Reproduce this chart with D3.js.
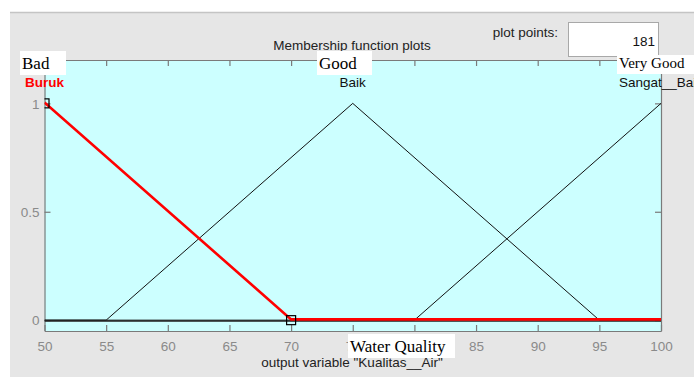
<!DOCTYPE html>
<html><head><meta charset="utf-8">
<script src="https://cdn.jsdelivr.net/npm/d3@7"></script>
<style>body{margin:0;background:#fff;} svg{display:block;}</style>
</head><body>
<svg id="c" width="694" height="377"></svg>
<script>
const xTicks = [50,55,60,65,70,75,80,85,90,95,100];
const yTicks = [0,0.5,1];
const mfNames = ["Buruk","Baik","Sangat__Baik"];
const mfEnglish = ["Bad","Good","Very Good"];
const buruk = [[50,1],[70,0],[100,0]];
const baik = [[50,0],[55,0],[75,1],[95,0],[100,0]];
const sangatBaik = [[50,0],[80,0],[100,1]];
const markers = [[50,1],[70,0]];
const labelAt = [50,75,100];

const svg = d3.select("#c");
const sans = "'Liberation Sans', Arial, sans-serif";
const serif = "'Liberation Serif', 'Times New Roman', serif";
const fs = "13.5px";

svg.append("rect").attr("x",10).attr("y",12).attr("width",684).attr("height",365).attr("fill","#e6e6e6");
svg.append("line").attr("x1",10).attr("x2",694).attr("y1",12.5).attr("y2",12.5).attr("stroke","#c4c4c4").attr("stroke-width",1.5);

const L=44.5, R=661, T=60, B=331;
const x = d3.scaleLinear().domain([50,100]).range([L,R]);
const y = d3.scaleLinear().domain([-0.05,1.2]).range([B,T]);

svg.append("rect").attr("x",L).attr("y",T).attr("width",R-L).attr("height",B-T).attr("fill","#ccffff");

svg.append("defs").append("clipPath").attr("id","clip").append("rect")
  .attr("x",L).attr("y",T).attr("width",R-L).attr("height",B-T);

// axes
const gray="#7a7a7a";
const ax = svg.append("g").attr("transform",`translate(0,${B})`).call(d3.axisBottom(x).tickValues(xTicks).tickSizeInner(-6).tickSizeOuter(0).tickPadding(10));
const axT = svg.append("g").attr("transform",`translate(0,${T})`).call(d3.axisTop(x).tickValues(xTicks).tickSizeInner(-6).tickSizeOuter(0).tickFormat(""));
const ay = svg.append("g").attr("transform",`translate(${L},0)`).call(d3.axisLeft(y).tickValues(yTicks).tickFormat(d=>String(d)).tickSizeInner(-6).tickSizeOuter(0).tickPadding(5));
const ayR = svg.append("g").attr("transform",`translate(${R},0)`).call(d3.axisRight(y).tickValues(yTicks).tickSizeInner(-6).tickSizeOuter(0).tickFormat(""));
[ax,axT,ay,ayR].forEach(g=>{
  g.selectAll("path,line").attr("stroke",gray).attr("stroke-width",1.2);
  g.selectAll("text").attr("fill","#8a8a8a").style("font-family",sans).style("font-size",fs);
});
ay.selectAll("text").attr("dy","0.35em");

const line = d3.line().x(d=>x(d[0])).y(d=>y(d[1]));
const plot = svg.append("g").attr("clip-path","url(#clip)");
plot.append("path").datum(baik).attr("d",line).attr("fill","none").attr("stroke","#111").attr("stroke-width",1);
plot.append("path").datum(sangatBaik).attr("d",line).attr("fill","none").attr("stroke","#111").attr("stroke-width",1);
plot.append("line").attr("x1",x(50)).attr("x2",x(100)).attr("y1",y(0)+0.8).attr("y2",y(0)+0.8).attr("stroke","#222").attr("stroke-width",1.5);
plot.append("path").datum(buruk).attr("d",line).attr("fill","none").attr("stroke","#ff0000").attr("stroke-width",2.6).attr("transform","translate(0,-0.8)");
plot.selectAll("rect.m").data(markers).enter().append("rect").attr("class","m")
  .attr("x",d=>x(d[0])-4.5).attr("y",d=>y(d[1])-4.5).attr("width",9).attr("height",9)
  .attr("fill","none").attr("stroke","#000").attr("stroke-width",1.2);

// MF labels
svg.selectAll("text.mf").data(mfNames).enter().append("text").attr("class","mf")
  .attr("x",(d,i)=>x(labelAt[i])).attr("y",87).attr("text-anchor","middle")
  .attr("fill",(d,i)=>i===0?"#ff0000":"#111")
  .style("font-weight",(d,i)=>i===0?"bold":"normal")
  .style("font-family",sans).style("font-size",fs).text(d=>d);

// titles
svg.append("text").attr("x",352).attr("y",50).attr("text-anchor","middle").attr("fill","#222")
  .style("font-family",sans).style("font-size",fs).text("Membership function plots");
svg.append("text").attr("x",352).attr("y",367).attr("text-anchor","middle").attr("fill","#222")
  .style("font-family",sans).style("font-size",fs).text('output variable "Kualitas__Air"');
svg.append("text").attr("x",558).attr("y",37).attr("text-anchor","end").attr("fill","#222")
  .style("font-family",sans).style("font-size",fs).text("plot points:");
svg.append("rect").attr("x",568.5).attr("y",22.5).attr("width",90).attr("height",34).attr("fill","#fff").attr("stroke","#a8a8a8");
svg.append("text").attr("x",655).attr("y",46).attr("text-anchor","end").attr("fill","#111")
  .style("font-family",sans).style("font-size",fs).text("181");

// English overlay labels
const boxes = [
  {t:mfEnglish[0], x:20, y:51, w:46, h:24},
  {t:mfEnglish[1], x:317, y:51, w:55, h:24},
  {t:mfEnglish[2], x:617, y:55, w:77, h:19},
  {t:"Water Quality", x:348, y:334, w:107, h:24}
];
boxes.forEach(b=>{
  svg.append("rect").attr("x",b.x).attr("y",b.y).attr("width",b.w).attr("height",b.h).attr("fill","#fff");
  svg.append("text").attr("x",b.x+2).attr("y",b.y+b.h-6).attr("fill","#000")
    .style("font-family",serif).style("font-size",b.h<20?"15px":"17px").text(b.t);
});
</script>
</body></html>
